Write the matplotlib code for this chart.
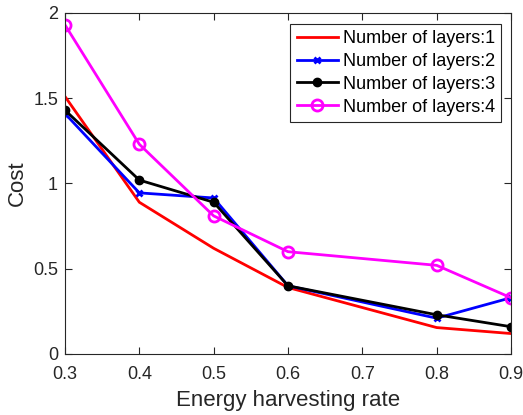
import matplotlib.pyplot as plt

plt.rcParams['font.family'] = ['Liberation Sans', 'DejaVu Sans']

rates = [0.3, 0.4, 0.5, 0.6, 0.8, 0.9]
cost_l1 = [1.51, 0.89, 0.62, 0.39, 0.155, 0.12]
cost_l2 = [1.41, 0.945, 0.915, 0.40, 0.21, 0.33]
cost_l3 = [1.43, 1.02, 0.89, 0.40, 0.23, 0.16]
cost_l4 = [1.93, 1.23, 0.81, 0.60, 0.52, 0.33]
labels = ["Number of layers:1", "Number of layers:2",
          "Number of layers:3", "Number of layers:4"]

fig = plt.figure(figsize=(5.23, 4.15), dpi=100)
ax = fig.add_axes([0.1243, 0.147, 0.8527, 0.8217])

ax.plot(rates, cost_l1, c="red", lw=2, label=labels[0])
ax.plot(rates, cost_l2, c="blue", lw=2, marker="x", ms=5, mew=2, label=labels[1])
ax.plot(rates, cost_l3, c="black", lw=2, marker="o", ms=6, label=labels[2])
ax.plot(rates, cost_l4, c="magenta", lw=2, marker="o", ms=8, mfc="none", mew=2,
        label=labels[3])

ax.set_xlim(0.3, 0.9)
ax.set_ylim(0, 2)
ax.set_xticks([0.3, 0.4, 0.5, 0.6, 0.7, 0.8, 0.9])
ax.set_xticklabels(["0.3", "0.4", "0.5", "0.6", "0.7", "0.8", "0.9"])
ax.set_yticks([0, 0.5, 1, 1.5, 2])
ax.set_yticklabels(["0", "0.5", "1", "1.5", "2"])
ax.tick_params(direction="in", top=True, right=True, labelsize=13,
               colors="#262626", length=5)
ax.tick_params(axis="x", pad=9)
ax.tick_params(axis="y", pad=5)
for s in ax.spines.values():
    s.set_color("#262626")
    s.set_linewidth(0.8)
ax.set_xlabel("Energy harvesting rate", fontsize=16, color="#262626", labelpad=5)
ax.set_ylabel("Cost", fontsize=16, color="#262626")

leg = ax.legend(loc="upper right", bbox_to_anchor=(0.978, 0.968), fontsize=13,
                fancybox=False, framealpha=1, edgecolor="#262626",
                borderpad=0.35, labelspacing=0.32, handlelength=2.3,
                handletextpad=0.25, borderaxespad=0)
leg.get_frame().set_linewidth(0.8)

plt.savefig("out.png")
